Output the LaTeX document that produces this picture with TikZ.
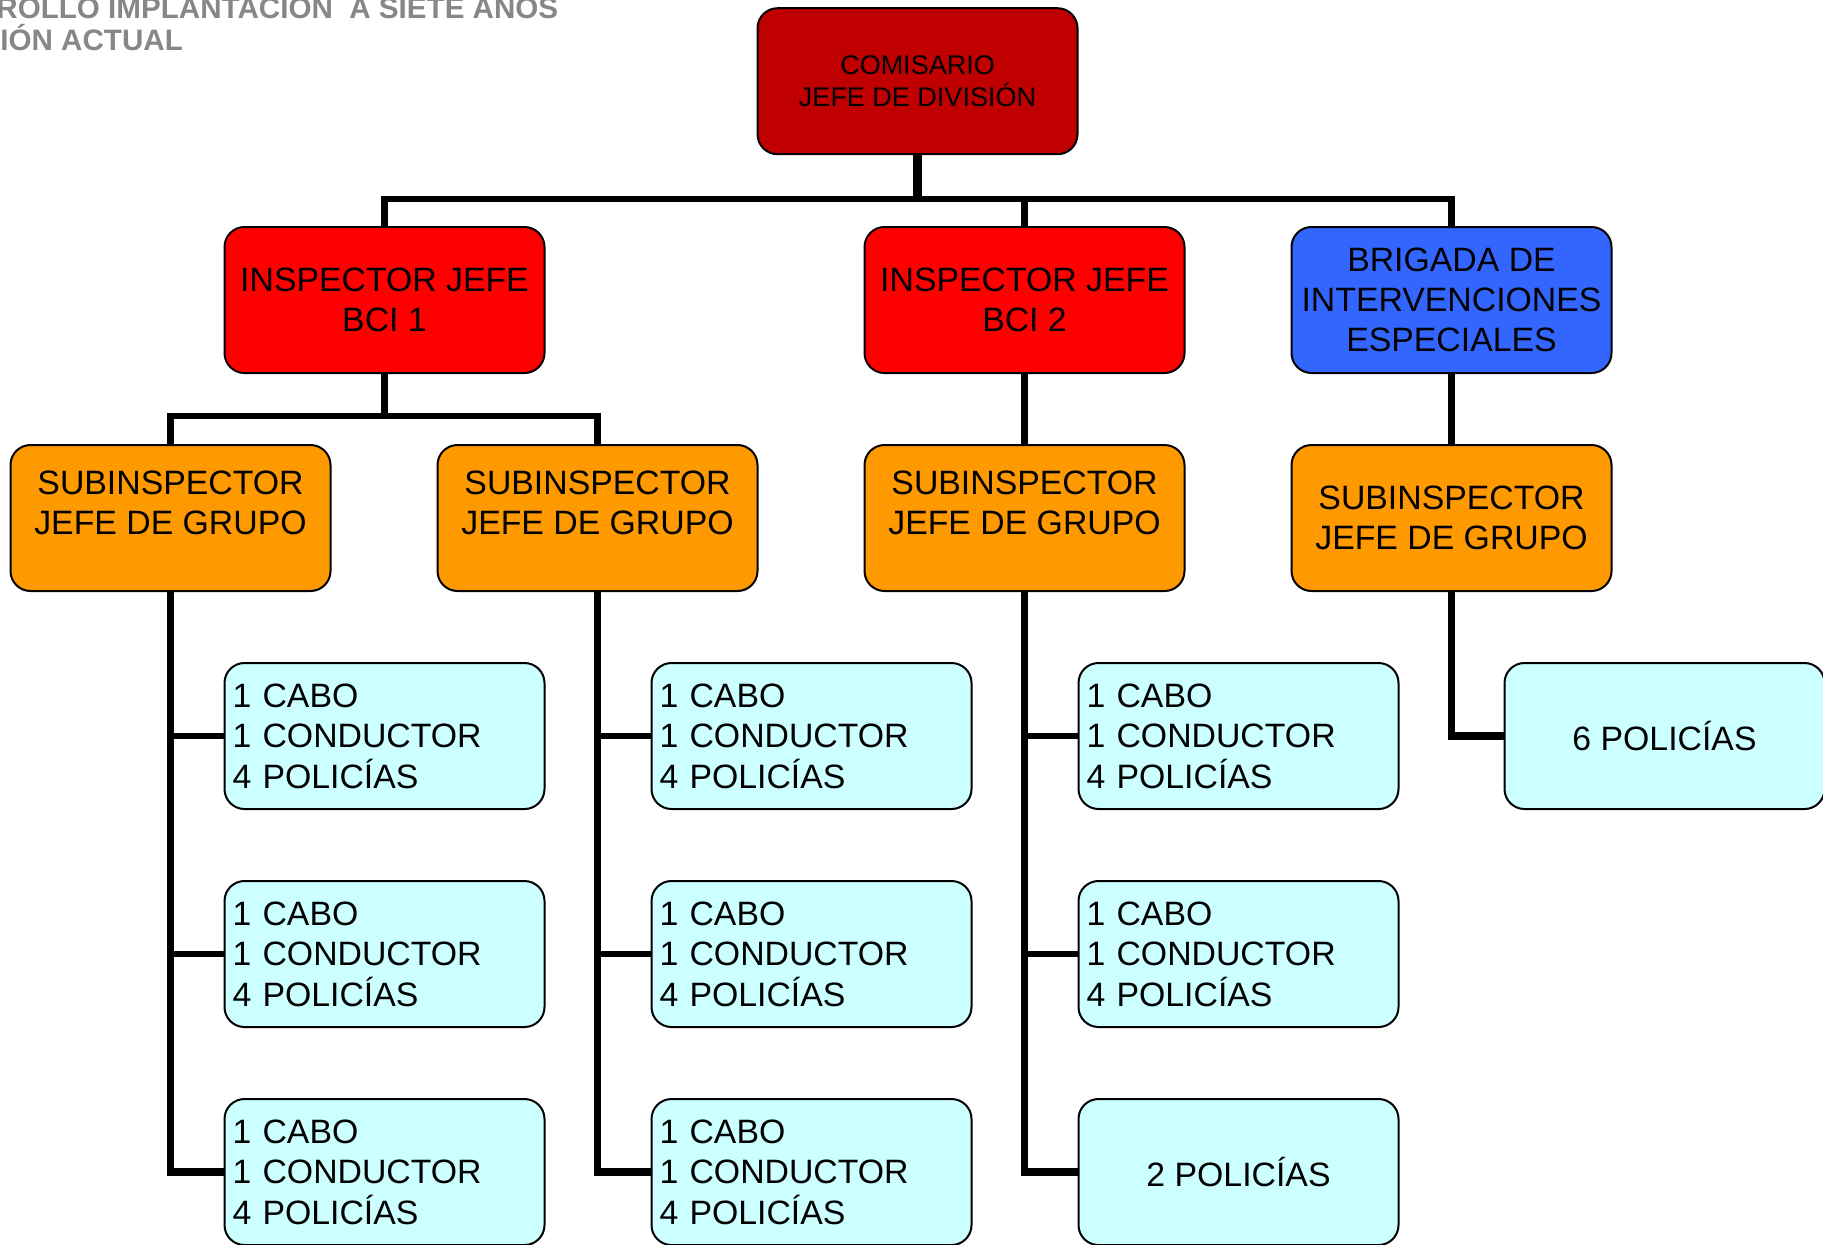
\documentclass[tikz,border=0pt]{standalone}
\usepackage{fontspec}
\setmainfont{Liberation Sans}
\usepackage{tikz}
\usetikzlibrary{calc, positioning}
\definecolor{comisariored}{RGB}{192,0,0}
\definecolor{inspectorred}{RGB}{255,0,0}
\definecolor{brigadablue}{RGB}{51,102,255}
\definecolor{subinsporange}{RGB}{255,153,0}
\definecolor{grupocyan}{RGB}{204,255,255}
\definecolor{titlegray}{RGB}{135,135,135}
\tikzstyle{box} = [rectangle, rounded corners=10pt, draw=black, line width=1pt, outer sep=0pt, minimum width=160pt, minimum height=73pt, inner sep=3pt]
\tikzstyle{jefatura} = [box, align=center, fill=comisariored, font=\fontsize{13.5}{16}\selectfont]
\tikzstyle{mando} = [box, align=center, font=\fontsize{16.9}{20}\selectfont]
\tikzstyle{grupo} = [box, text width=152pt, inner xsep=4pt, align=left, fill=grupocyan, font=\fontsize{16.9}{20.2}\selectfont]
\tikzstyle{titulo} = [anchor=base west, inner sep=0pt, text=titlegray, font=\bfseries\fontsize{14.8}{16}\selectfont]
\tikzstyle{tree} = [line width=3.2pt]
\tikzstyle{spine} = [line width=3.8pt]
\tikzstyle{trunk} = [line width=4.5pt]

\begin{document}
\begin{tikzpicture}[node distance = 36pt]
		\useasboundingbox (0pt,0pt) rectangle (911.5pt,-622pt);
		\node (TituloA) [titulo] at (-2pt,-9pt) {ROLLO IMPLANTACIÓN\ \ A SIETE AÑOS};
		\node (TituloB) [titulo] at (0pt,-25pt) {IÓN ACTUAL};
		% mandos
		\node (Comisario) [jefatura] at (458.75pt,-40.6pt) {COMISARIO\\JEFE DE DIVISIÓN};
		\node (InspectorB) [mando, fill=inspectorred] at (512.25pt,-150pt) {INSPECTOR JEFE\\BCI 2};
		\node (InspectorA) [mando, fill=inspectorred, left = 160pt of InspectorB] {INSPECTOR JEFE\\BCI 1};
		\node (Brigada) [mando, fill=brigadablue, right = 53.5pt of InspectorB] {BRIGADA DE\\INTERVENCIONES\\ESPECIALES};
		\node (SubA) [mando, fill=subinsporange, below = of InspectorA, xshift=-107pt] {SUBINSPECTOR\\JEFE DE GRUPO\\[-5pt]\mbox{}};
		\node (SubB) [mando, fill=subinsporange, right = 53.5pt of SubA] {SUBINSPECTOR\\JEFE DE GRUPO\\[-5pt]\mbox{}};
		\node (SubC) [mando, fill=subinsporange, below = of InspectorB] {SUBINSPECTOR\\JEFE DE GRUPO\\[-5pt]\mbox{}};
		\node (SubD) [mando, fill=subinsporange, below = of Brigada] {SUBINSPECTOR\\JEFE DE GRUPO};
		% grupos
		\node (GrupoA1) [grupo, below = of SubA, xshift=107pt] {1 CABO\\1 CONDUCTOR\\4 POLICÍAS};
		\node (GrupoA2) [grupo, below = of GrupoA1] {1 CABO\\1 CONDUCTOR\\4 POLICÍAS};
		\node (GrupoA3) [grupo, below = of GrupoA2] {1 CABO\\1 CONDUCTOR\\4 POLICÍAS};
		\node (GrupoB1) [grupo, below = of SubB, xshift=107pt] {1 CABO\\1 CONDUCTOR\\4 POLICÍAS};
		\node (GrupoB2) [grupo, below = of GrupoB1] {1 CABO\\1 CONDUCTOR\\4 POLICÍAS};
		\node (GrupoB3) [grupo, below = of GrupoB2] {1 CABO\\1 CONDUCTOR\\4 POLICÍAS};
		\node (GrupoC1) [grupo, below = of SubC, xshift=107pt] {1 CABO\\1 CONDUCTOR\\4 POLICÍAS};
		\node (GrupoC2) [grupo, below = of GrupoC1] {1 CABO\\1 CONDUCTOR\\4 POLICÍAS};
		\node (PoliciasC) [mando, fill=grupocyan, below = of GrupoC2] {2 POLICÍAS};
		\node (PoliciasD) [mando, fill=grupocyan, below = of SubD, xshift=106.5pt] {6 POLICÍAS};
		% conexiones
		\draw [trunk] (Comisario.south) -- ++(0,-22.5pt) coordinate (BusTop);
		\draw [tree] (InspectorA) |- (BusTop) -| (Brigada);
		\draw [tree] (InspectorB) -- (InspectorB |- BusTop);
		\draw [tree] (InspectorA.south) -- ++(0,-21.5pt) coordinate (BusA);
		\draw [tree] (SubA) |- (BusA) -| (SubB);
		\draw [tree] (InspectorB) -- (SubC);
		\draw [tree] (Brigada) -- (SubD);
		\draw [spine] (SubA) |- (GrupoA3);
		\draw [tree] (SubA |- GrupoA1) -- (GrupoA1);
		\draw [tree] (SubA |- GrupoA2) -- (GrupoA2);
		\draw [spine] (SubB) |- (GrupoB3);
		\draw [tree] (SubB |- GrupoB1) -- (GrupoB1);
		\draw [tree] (SubB |- GrupoB2) -- (GrupoB2);
		\draw [spine] (SubC) |- (PoliciasC);
		\draw [tree] (SubC |- GrupoC1) -- (GrupoC1);
		\draw [tree] (SubC |- GrupoC2) -- (GrupoC2);
		\draw [spine] (SubD) |- (PoliciasD);
\end{tikzpicture}
\end{document}
